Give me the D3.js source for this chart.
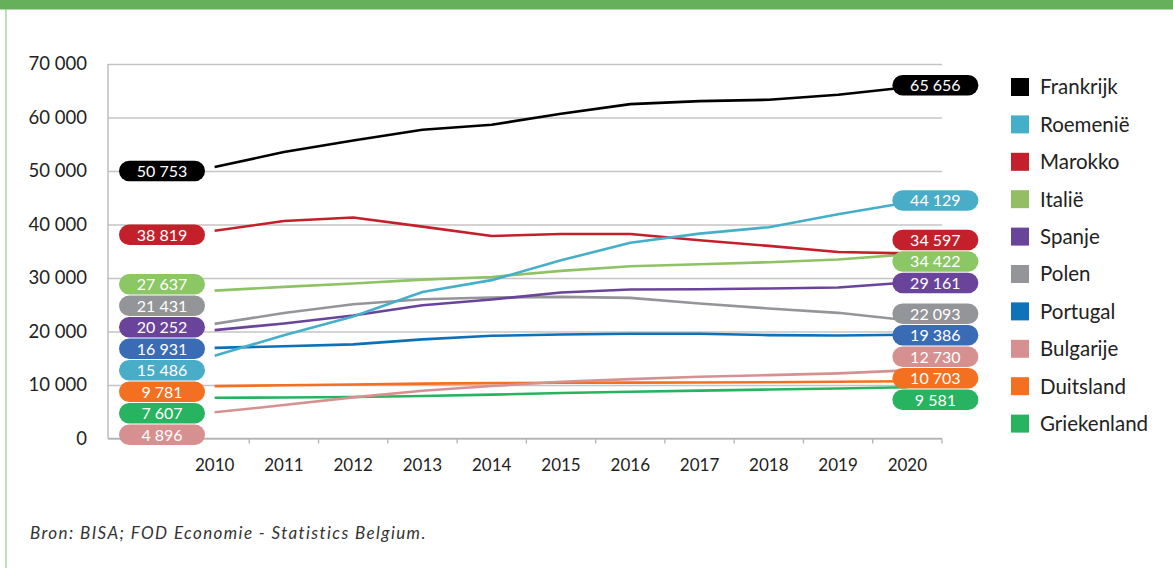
<!DOCTYPE html>
<html><head><meta charset="utf-8">
<script src="https://cdn.jsdelivr.net/npm/d3@7"></script>
<style>
body{margin:0;background:#fff;}
svg{display:block;font-family:Lato,"Open Sans",sans-serif;}
</style>
</head><body>
<svg id="chart" width="1173" height="568"></svg>
<script>
// ---------- DATA ----------
const years = [2010, 2011, 2012, 2013, 2014, 2015, 2016, 2017, 2018, 2019, 2020];
const countries = ["Frankrijk", "Roemenië", "Marokko", "Italië", "Spanje", "Polen", "Portugal", "Bulgarije", "Duitsland", "Griekenland"];
const frankrijk   = [50753, 53540, 55700, 57700, 58650, 60700, 62500, 63060, 63320, 64250, 65656];
const roemenie    = [15486, 19300, 22800, 27400, 29600, 33300, 36600, 38300, 39500, 41900, 44129];
const marokko     = [38819, 40650, 41300, 39600, 37860, 38230, 38230, 37050, 36000, 34870, 34597];
const italie      = [27637, 28340, 28970, 29700, 30200, 31330, 32200, 32570, 32950, 33450, 34422];
const spanje      = [20252, 21500, 23000, 24900, 25980, 27290, 27850, 27900, 28040, 28220, 29161];
const polen       = [21431, 23450, 25100, 26040, 26350, 26470, 26290, 25230, 24300, 23490, 22093];
const portugal    = [16931, 17250, 17600, 18520, 19200, 19450, 19570, 19570, 19320, 19260, 19386];
const bulgarije   = [4896, 6250, 7690, 8930, 9800, 10600, 11100, 11540, 11850, 12170, 12730];
const duitsland   = [9781, 9950, 10100, 10250, 10350, 10420, 10450, 10480, 10520, 10600, 10703];
const griekenland = [7607, 7650, 7750, 7950, 8200, 8500, 8750, 8950, 9150, 9350, 9581];
const yTicks = [0, 10000, 20000, 30000, 40000, 50000, 60000, 70000];
const sourceText = "Bron: BISA; FOD Economie - Statistics Belgium.";

// ---------- STYLES ----------
const lineColors  = ["#000000", "#45afc9", "#c4202b", "#8fc264", "#6a449b", "#939598", "#0d71b9", "#d69090", "#f37021", "#27b35f"];
const labelColors = ["#000000", "#4aadc7", "#c4202b", "#8cc766", "#6a449b", "#939598", "#3a6bb5", "#d69090", "#f37021", "#27b35f"];
const legendColors = ["#000000", "#45afc9", "#c4202b", "#94be64", "#6a449b", "#939598", "#0f72ba", "#d69090", "#f37021", "#27b35f"];

const seriesValues = [frankrijk, roemenie, marokko, italie, spanje, polen, portugal, bulgarije, duitsland, griekenland];
const series = countries.map((name, i) => ({
  name, i, values: seriesValues[i].map((v, j) => ({year: years[j], value: v}))
}));

// ---------- LAYOUT ----------
const W = 1173, H = 568;
const plotLeft = 108, plotRight = 942, plotTop = 64, plotBottom = 438.5;
const svg = d3.select("#chart");

const x = d3.scaleBand().domain(years).range([180, plotRight]).padding(0);
const y = d3.scaleLinear().domain([0, 70000]).range([plotBottom, plotTop]);
const cx = d => x(d) + x.bandwidth() / 2;
const fmt = v => d3.format(",")(v).replace(/,/g, " ");

// frame
svg.append("rect").attr("x", 0).attr("y", 0).attr("width", W).attr("height", 9.5).attr("fill", "#66af5b");
svg.append("line").attr("x1", 6).attr("x2", 6).attr("y1", 9).attr("y2", H).attr("stroke", "#7dbf72").attr("stroke-width", 1);

// y axis with gridlines
const yAxis = svg.append("g").attr("transform", `translate(${plotLeft},0)`)
  .call(d3.axisLeft(y).tickValues(yTicks).tickSize(-(plotRight - plotLeft)).tickPadding(21).tickFormat(fmt));
yAxis.select(".domain").remove();
yAxis.selectAll(".tick line").attr("stroke", "#c4c4c4").attr("stroke-width", 1.3);
yAxis.selectAll(".tick text").attr("fill", "#222").style("font-size", "18.5px").style("font-family", "Lato");
// vertical axis line
svg.append("line").attr("x1", plotLeft).attr("x2", plotLeft).attr("y1", plotTop).attr("y2", plotBottom)
  .attr("stroke", "#b3b3b3").attr("stroke-width", 1.3);

// x axis
const xAxis = svg.append("g").attr("transform", `translate(0,${plotBottom})`)
  .call(d3.axisBottom(x).tickSize(0).tickPadding(20));
xAxis.select(".domain").remove();
xAxis.selectAll(".tick text").attr("fill", "#222").style("font-size", "17px").style("font-family", "Lato");
svg.append("line").attr("x1", plotLeft).attr("x2", plotRight).attr("y1", plotBottom).attr("y2", plotBottom)
  .attr("stroke", "#b3b3b3").attr("stroke-width", 1.3);
svg.append("g").selectAll("line").data(years).join("line")
  .attr("x1", d => x(d)).attr("x2", d => x(d))
  .attr("y1", plotBottom).attr("y2", plotBottom + 5)
  .attr("stroke", "#b3b3b3").attr("stroke-width", 1.3);
svg.append("line").attr("x1", plotRight).attr("x2", plotRight).attr("y1", plotBottom).attr("y2", plotBottom + 5)
  .attr("stroke", "#b3b3b3").attr("stroke-width", 1.3);

// lines
const line = d3.line().x(d => cx(d.year)).y(d => y(d.value));
svg.append("g").selectAll("path").data(series.slice().reverse()).join("path")
  .attr("d", d => line(d.values))
  .attr("fill", "none")
  .attr("stroke", d => lineColors[d.i])
  .attr("stroke-width", 2.6)
  .attr("stroke-linejoin", "round");

// label dodging (cluster merging)
function dodge(items, spacing, minY, maxY) {
  const sorted = items.slice().sort((a, b) => a.desired - b.desired);
  const clusters = [];
  sorted.forEach(it => {
    clusters.push({items: [it]});
    let merged = true;
    while (merged) {
      merged = false;
      const c = clusters[clusters.length - 1];
      const n = c.items.length;
      const mean = d3.mean(c.items, d => d.desired);
      c.top = Math.max(minY, Math.min(maxY - (n - 1) * spacing, mean - (n - 1) * spacing / 2));
      if (clusters.length > 1) {
        const p = clusters[clusters.length - 2];
        if (p.top + p.items.length * spacing > c.top) {
          p.items = p.items.concat(c.items);
          clusters.pop();
          merged = true;
        }
      }
    }
  });
  clusters.forEach(c => c.items.forEach((it, k) => it.pos = c.top + k * spacing));
  return items;
}

const labW = 86, labH = 20.5;
function drawLabels(idx, centerX, shift, maxY) {
  const items = series.map(s => ({s, value: s.values[idx].value, desired: y(s.values[idx].value) + shift}));
  dodge(items, 21.5, plotTop, maxY);
  const g = svg.append("g").selectAll("g").data(items).join("g")
    .attr("transform", d => `translate(${centerX},${d.pos})`);
  g.append("rect").attr("x", -labW / 2).attr("y", -labH / 2).attr("width", labW).attr("height", labH)
    .attr("rx", labH / 2).attr("fill", d => labelColors[d.s.i]);
  g.append("text").attr("text-anchor", "middle").attr("dy", "0.36em")
    .attr("fill", "#fff").style("font-size", "16px").style("font-family", "Lato")
    .text(d => fmt(d.value));
}
drawLabels(0, x.range()[0] - 18, 4, plotBottom);
drawLabels(years.length - 1, cx(years[years.length - 1]) + 28, -2, plotBottom);

// legend
const leg = svg.append("g").selectAll("g").data(series).join("g")
  .attr("transform", (d, i) => `translate(1011,${87 + i * 37.4})`);
leg.append("rect").attr("x", 0).attr("y", -9).attr("width", 18).attr("height", 18).attr("fill", d => legendColors[d.i]);
leg.append("text").attr("x", 29).attr("dy", "0.36em").attr("fill", "#222")
  .style("font-size", "20.5px").style("font-family", "Lato").text(d => d.name);

// source
svg.append("text").attr("x", 30).attr("y", 539).attr("fill", "#333")
  .style("font-size", "17px").style("font-style", "italic")
  .style("font-family", "Lato").style("letter-spacing", "1.4px")
  .text(sourceText);
</script>
</body></html>
